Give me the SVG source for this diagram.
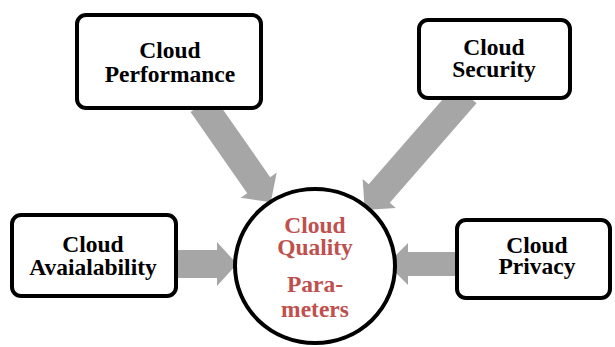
<svg xmlns="http://www.w3.org/2000/svg" width="615" height="347" viewBox="0 0 615 347">
<defs>
<style>
.box{fill:#fff;stroke:#000;stroke-width:4}
text{font-family:'Liberation Serif','Times New Roman',Times,serif;font-weight:700;font-size:23.5px;text-anchor:middle;fill:#000}
.ctr{fill:#C0504D}
.arr{fill:#A6A6A6}
</style>
</defs>
<g id="connectors">
<polygon class="arr" transform="translate(202,104) rotate(55.05)" points="0,-14 99,-14 99,-22 120,0 99,22 99,14 0,14"/>
<polygon class="arr" transform="translate(466,94) rotate(131.1)" points="0,-14 132,-14 132,-22 154,0 132,22 132,14 0,14"/>
<polygon class="arr" transform="translate(170,264) rotate(0)" points="0,-14 47,-14 47,-22 67,0 47,22 47,14 0,14"/>
<polygon class="arr" transform="translate(462,264) rotate(180)" points="0,-12 54,-12 54,-21 75,0 54,21 54,12 0,12"/>
</g>
<g id="performance">
<rect class="box" x="77" y="15" width="184" height="93" rx="9"/>
<text x="170" y="58">Cloud</text>
<text x="170" y="82">Performance</text>
</g>
<g id="security">
<rect class="box" x="419" y="20" width="151" height="78" rx="9"/>
<text x="494" y="55">Cloud</text>
<text x="494" y="77">Security</text>
</g>
<g id="availability">
<rect class="box" x="12" y="215" width="164" height="81" rx="9"/>
<text x="93" y="252">Cloud</text>
<text x="93" y="275">Avaialability</text>
</g>
<g id="privacy">
<rect class="box" x="457" y="220" width="153" height="78" rx="9"/>
<text x="537" y="253">Cloud</text>
<text x="537" y="274">Privacy</text>
</g>
<g id="quality">
<ellipse class="box" cx="315" cy="266" rx="80" ry="77"/>
<text class="ctr" x="315" y="233">Cloud</text>
<text class="ctr" x="315" y="255">Quality</text>
<text class="ctr" x="315" y="292">Para-</text>
<text class="ctr" x="315" y="317">meters</text>
</g>
</svg>
